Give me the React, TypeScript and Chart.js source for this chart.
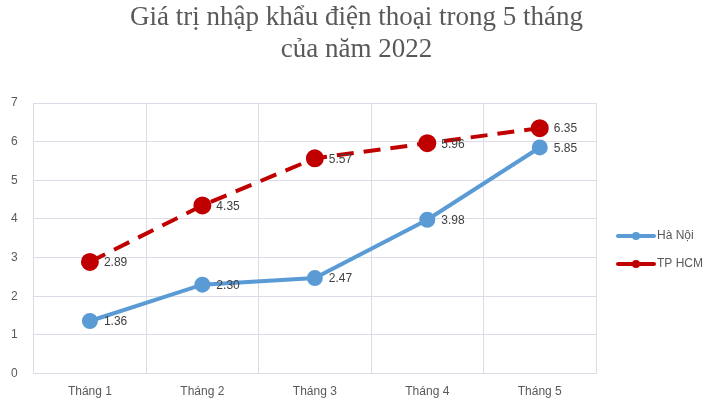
import { useEffect, useRef } from 'react';
import { Chart, registerables } from 'chart.js';

Chart.register(...registerables);

const months = ['Tháng 1', 'Tháng 2', 'Tháng 3', 'Tháng 4', 'Tháng 5'];
const haNoi = [1.36, 2.30, 2.47, 3.98, 5.85];
const tpHcm = [2.89, 4.35, 5.57, 5.96, 6.35];
const titleLines = ['Giá trị nhập khẩu điện thoại trong 5 tháng', 'của năm 2022'];

const BLUE = '#5B9BD5';
const RED = '#C00000';
const TEXT = '#595959';
const GRID = '#dcdce6';
const SANS = '"Liberation Sans", sans-serif';

// title centred over the whole canvas (the built-in one centres on the padded area)
const bigTitle = {
  id: 'bigTitle',
  afterDraw(chart: Chart) {
    const ctx = chart.ctx;
    ctx.save();
    ctx.font = '27px "Liberation Serif", "Times New Roman", serif';
    ctx.fillStyle = TEXT;
    ctx.textAlign = 'center';
    ctx.textBaseline = 'middle';
    titleLines.forEach((line, i) => ctx.fillText(line, chart.width / 2, 18 + i * 32));
    ctx.restore();
  },
};

// value labels to the right of each point
const valueLabels = {
  id: 'valueLabels',
  afterDatasetsDraw(chart: Chart) {
    const ctx = chart.ctx;
    ctx.save();
    ctx.font = '12px ' + SANS;
    ctx.fillStyle = '#404040';
    ctx.textAlign = 'left';
    ctx.textBaseline = 'middle';
    chart.data.datasets.forEach((ds, i) => {
      chart.getDatasetMeta(i).data.forEach((pt, j) => {
        ctx.fillText((ds.data[j] as number).toFixed(2), pt.x + 14, pt.y + 1);
      });
    });
    ctx.restore();
  },
};

// legend drawn by hand on the right, line with a dot like the original
const sideLegend = {
  id: 'sideLegend',
  afterDraw(chart: Chart) {
    const ctx = chart.ctx;
    ctx.save();
    ctx.font = '12px ' + SANS;
    ctx.textBaseline = 'middle';
    ctx.textAlign = 'left';
    const x0 = 618;
    chart.data.datasets.forEach((ds, i) => {
      const y = 236 + i * 28;
      const c = ds.borderColor as string;
      ctx.strokeStyle = c;
      ctx.lineWidth = 4;
      ctx.lineCap = 'round';
      ctx.beginPath();
      ctx.moveTo(x0, y);
      ctx.lineTo(x0 + 36, y);
      ctx.stroke();
      ctx.fillStyle = c;
      ctx.beginPath();
      ctx.arc(x0 + 18, y, 4, 0, Math.PI * 2);
      ctx.fill();
      ctx.fillStyle = TEXT;
      ctx.fillText(ds.label as string, x0 + 39, y);
    });
    ctx.restore();
  },
};

export default function App() {
  const canvasRef = useRef<HTMLCanvasElement>(null);
  const chartRef = useRef<Chart | null>(null);

  useEffect(() => {
    document.body.style.margin = '0';
    if (!canvasRef.current) return;
    chartRef.current?.destroy();

    chartRef.current = new Chart(canvasRef.current, {
      type: 'line',
      data: {
        labels: months,
        datasets: [
          {
            label: 'Hà Nội', data: haNoi, borderColor: BLUE, backgroundColor: BLUE,
            borderWidth: 4, pointRadius: 6, pointHoverRadius: 6, tension: 0,
          },
          {
            label: 'TP HCM', data: tpHcm, borderColor: RED, backgroundColor: RED,
            borderWidth: 4, borderDash: [17, 10], pointRadius: 7, pointHoverRadius: 7, tension: 0,
          },
        ],
      },
      options: {
        responsive: true, maintainAspectRatio: false, animation: false,
        layout: { padding: { left: -5, right: 117, top: 103, bottom: 0 } },
        plugins: {
          legend: { display: false },
          tooltip: { enabled: false },
          title: { display: false },
        },
        scales: {
          x: {
            offset: true,
            grid: { color: GRID, offset: true, drawTicks: false },
            border: { display: false },
            ticks: { color: TEXT, font: { family: SANS, size: 12 }, padding: 11 },
          },
          y: {
            min: 0, max: 7,
            grid: { color: GRID, drawTicks: false },
            border: { display: false },
            ticks: { stepSize: 1, color: TEXT, font: { family: SANS, size: 12 }, padding: 16 },
          },
        },
      },
      plugins: [bigTitle, valueLabels, sideLegend],
    });

    return () => { chartRef.current?.destroy(); };
  }, []);

  return (
    <div style={{ position: 'relative', width: 713, height: 410, background: '#fff' }}>
      <canvas ref={canvasRef} />
    </div>
  );
}
